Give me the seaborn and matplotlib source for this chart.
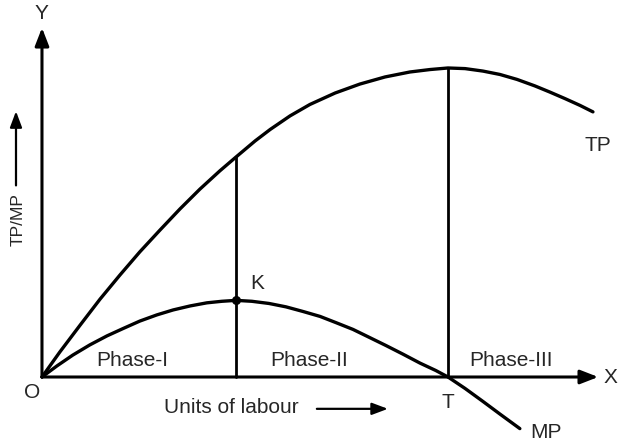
import numpy as np
import pandas as pd
import matplotlib
matplotlib.use('Agg')
import matplotlib.pyplot as plt
import seaborn as sns

# Werte (Arbeitseinheiten, Output; TP-Maximum = 100)
labour = [0, 0.44, 0.94, 1.43, 1.92, 2.41, 2.91, 3.40, 3.89, 4.38, 4.78, 5.25,
          5.62, 6.11, 6.60, 7.22, 7.83, 8.45, 9.06, 9.56, 10.0, 10.42, 10.86,
          11.28, 11.70, 12.14, 12.51, 12.88, 13.25, 13.57]
tp = [0, 8.1, 16.8, 25.2, 33.0, 40.5, 47.6, 54.4, 60.8, 66.7, 71.2, 76.4,
      80.1, 84.5, 88.2, 91.9, 94.8, 97.1, 98.7, 99.5, 100.0, 99.8, 99.0,
      97.9, 96.3, 94.2, 92.2, 90.1, 87.9, 85.8]

labour_mp = [0, 0.37, 0.76, 1.18, 1.60, 2.00, 2.41, 2.83, 3.23, 3.65, 4.06,
             4.43, 4.78, 5.17, 5.59, 6.01, 6.43, 6.85, 7.24, 7.66, 8.05, 8.47,
             8.89, 9.31, 9.70, 10.0, 10.42, 10.86, 11.28, 11.77]
mp = [0, 3.6, 7.1, 10.4, 13.3, 15.7, 18.1, 20.1, 21.7, 23.0, 24.0, 24.5,
      24.8, 24.5, 23.8, 22.7, 21.2, 19.6, 17.6, 15.4, 12.9, 10.2, 7.4, 4.5,
      2.1, 0, -3.7, -7.9, -12.0, -16.7]

k_labour = 4.78     # MP-Maximum (Punkt K)
t_labour = 10.0     # MP = 0, TP-Maximum (Punkt T)
phase_labels = ['Phase-I', 'Phase-II', 'Phase-III']
phase_x = [2.22, 6.58, 11.55]

sns.set_theme(style='white')
plt.rcParams['font.family'] = ['Liberation Sans', 'DejaVu Sans']

fig = plt.figure(figsize=(6.24, 4.41), dpi=100)
ax = fig.add_axes([0, 0, 1, 1])

df_tp = pd.DataFrame({'labour': labour, 'output': tp})
df_mp = pd.DataFrame({'labour': labour_mp, 'output': mp})
sns.lineplot(data=df_tp, x='labour', y='output', sort=False, estimator=None,
             color='black', lw=2.4, ax=ax)
sns.lineplot(data=df_mp, x='labour', y='output', sort=False, estimator=None,
             color='black', lw=2.4, ax=ax)

# Phasengrenzen
k_mp = mp[labour_mp.index(k_labour)]
ax.plot([k_labour, k_labour], [0, tp[labour.index(k_labour)]], color='black', lw=2)
ax.plot([t_labour, t_labour], [0, max(tp)], color='black', lw=2)
ax.scatter([k_labour], [k_mp], s=30, color='black', zorder=5)

# Achsen mit Pfeilen
arrow = dict(arrowstyle='-|>,head_length=0.9,head_width=0.35', color='black',
             lw=2.2, shrinkA=0, shrinkB=0)
ax.annotate('', xy=(0, 113), xytext=(0, 0), arrowprops=arrow)
ax.annotate('', xy=(13.7, 0), xytext=(0, 0), arrowprops=arrow)

fs = 15
ax.text(-0.02, 117.5, 'Y', fontsize=fs, ha='center', va='center')
ax.text(14.0, 0, 'X', fontsize=fs, ha='center', va='center')
ax.text(-0.25, -4.9, 'O', fontsize=fs, ha='center', va='center')
ax.text(10.0, -8.1, 'T', fontsize=fs, ha='center', va='center')
ax.text(5.30, 30.1, 'K', fontsize=fs, ha='center', va='center')
ax.text(13.69, 75, 'TP', fontsize=fs, ha='center', va='center')
ax.text(12.41, -17.8, 'MP', fontsize=fs, ha='center', va='center')
for lab, px in zip(phase_labels, phase_x):
    ax.text(px, 5.5, lab, fontsize=fs, ha='center', va='center')

ax.text(4.66, -10.0, 'Units of labour', fontsize=fs, ha='center', va='center')
small = dict(arrowstyle='-|>,head_length=0.8,head_width=0.3', color='black',
             lw=1.6, shrinkA=0, shrinkB=0)
ax.annotate('', xy=(8.52, -10.3), xytext=(6.77, -10.3), arrowprops=small)
ax.text(-0.58, 50.8, 'TP/MP', fontsize=12.5, rotation=90, ha='center', va='center')
ax.annotate('', xy=(-0.64, 86.0), xytext=(-0.64, 62.0), arrowprops=small)

ax.set_xlim(-1.034, 14.335)
ax.set_ylim(-20.71, 122.0)
ax.axis('off')

fig.savefig('out.png', dpi=100)
